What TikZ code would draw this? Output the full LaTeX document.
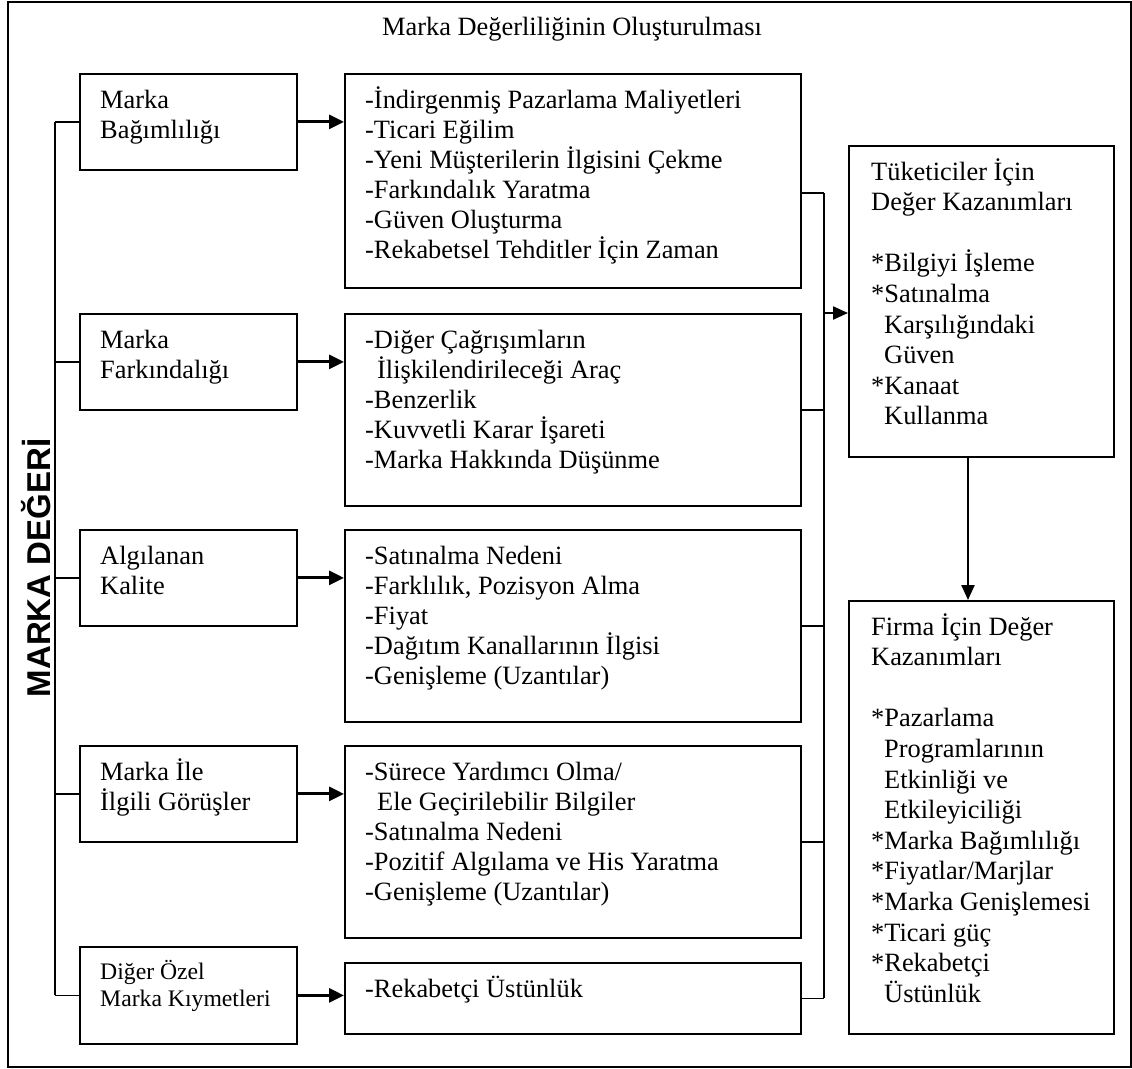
\documentclass[tikz,border=0pt]{standalone}
\usepackage{fontspec}
\setmainfont{Liberation Serif}
\newfontfamily\sansbold{Liberation Sans}
\usetikzlibrary{arrows.meta}
\tikzset{
  box/.style={draw, line width=1.8pt, rectangle, inner sep=0pt, anchor=north west},
  txt/.style={anchor=base west, inner sep=0pt, font=\fontsize{26.4}{30}\selectfont},
  rtxt/.style={anchor=base west, inner sep=0pt, font=\fontsize{26.4}{30.6}\selectfont},
  smalltxt/.style={anchor=base west, inner sep=0pt, font=\fontsize{23.7}{27}\selectfont},
  conn/.style={line width=1.5pt},
  arr/.style={line width=3pt, -{Triangle[length=15pt,width=14pt]}},
  arrthin/.style={line width=2.2pt, -{Triangle[length=15pt,width=13pt]}},
}
\newcommand{\ind}{\hspace*{12pt}}
\newcommand{\astind}{\hspace*{13pt}}
\newcommand{\mystar}{{}*}
\begin{document}
\begin{tikzpicture}[x=1pt,y=-1pt]
\useasboundingbox (0,0) rectangle (1132,1068);
% outer frame
\node[box, line width=1.8pt, minimum width=1123pt, minimum height=1065pt] (frame) at (7,1) {};
% title
\node[anchor=base, inner sep=0pt, font=\fontsize{26.4}{30}\selectfont] (title) at (572,35) {Marka Değerliliğinin Oluşturulması};
% vertical label
\node[anchor=base, rotate=90, inner sep=0pt, font=\sansbold\bfseries\fontsize{33}{38}\selectfont] (mdeg) at (50,568) {MARKA DEĞERİ};

% left boxes
\node[box, minimum width=217pt, minimum height=96pt] (b1) at (79,73) {};
\node[box, minimum width=217pt, minimum height=96pt] (b2) at (79,313) {};
\node[box, minimum width=217pt, minimum height=96pt] (b3) at (79,529) {};
\node[box, minimum width=217pt, minimum height=96pt] (b4) at (79,745) {};
\node[box, minimum width=217pt, minimum height=97pt] (b5) at (79,946) {};

\node[txt] (t1) at (100,108) {\parbox[t]{200pt}{\raggedright Marka\\Bağımlılığı}};
\node[txt] (t2) at (100,348) {\parbox[t]{200pt}{\raggedright Marka\\Farkındalığı}};
\node[txt] (t3) at (100,564) {\parbox[t]{200pt}{\raggedright Algılanan\\Kalite}};
\node[txt] (t4) at (100,780) {\parbox[t]{200pt}{\raggedright Marka İle\\İlgili Görüşler}};
\node[smalltxt] (t5) at (100,979) {\parbox[t]{200pt}{\raggedright Diğer Özel\\Marka Kıymetleri}};

% middle boxes
\node[box, minimum width=456pt, minimum height=214pt] (m1) at (344,73) {};
\node[box, minimum width=456pt, minimum height=192pt] (m2) at (344,313) {};
\node[box, minimum width=456pt, minimum height=192pt] (m3) at (344,529) {};
\node[box, minimum width=456pt, minimum height=192pt] (m4) at (344,745) {};
\node[box, minimum width=456pt, minimum height=71pt] (m5) at (344,962) {};

\node[txt] (n1) at (365,108) {\parbox[t]{430pt}{\raggedright
-İndirgenmiş Pazarlama Maliyetleri\\
-Ticari Eğilim\\
-Yeni Müşterilerin İlgisini Çekme\\
-Farkındalık Yaratma\\
-Güven Oluşturma\\
-Rekabetsel Tehditler İçin Zaman}};
\node[txt] (n2) at (365,348) {\parbox[t]{430pt}{\raggedright
-Diğer Çağrışımların\\
\ind İlişkilendirileceği Araç\\
-Benzerlik\\
-Kuvvetli Karar İşareti\\
-Marka Hakkında Düşünme}};
\node[txt] (n3) at (365,564) {\parbox[t]{430pt}{\raggedright
-Satınalma Nedeni\\
-Farklılık, Pozisyon Alma\\
-Fiyat\\
-Dağıtım Kanallarının İlgisi\\
-Genişleme (Uzantılar)}};
\node[txt] (n4) at (365,780) {\parbox[t]{430pt}{\raggedright
-Sürece Yardımcı Olma/\\
\ind Ele Geçirilebilir Bilgiler\\
-Satınalma Nedeni\\
-Pozitif Algılama ve His Yaratma\\
-Genişleme (Uzantılar)}};
\node[txt] (n5) at (365,997) {\parbox[t]{430pt}{\raggedright -Rekabetçi Üstünlük}};

% right boxes
\node[box, minimum width=265pt, minimum height=311pt] (r1) at (848,145) {};
\node[box, minimum width=265pt, minimum height=433pt] (r2) at (848,600) {};

\node[rtxt] (rt1) at (871,180) {\parbox[t]{240pt}{\raggedright
Tüketiciler İçin\\
Değer Kazanımları\\
\mbox{}\\
\mystar Bilgiyi İşleme\\
\mystar Satınalma\\
\astind Karşılığındaki\\
\astind Güven\\
\mystar Kanaat\\
\astind Kullanma}};
\node[rtxt] (rt2) at (871,635) {\parbox[t]{240pt}{\raggedright
Firma İçin Değer\\
Kazanımları\\
\mbox{}\\
\mystar Pazarlama\\
\astind Programlarının\\
\astind Etkinliği ve\\
\astind Etkileyiciliği\\
\mystar Marka Bağımlılığı\\
\mystar Fiyatlar/Marjlar\\
\mystar Marka Genişlemesi\\
\mystar Ticari güç\\
\mystar Rekabetçi\\
\astind Üstünlük}};

% spine on the left
\coordinate (sp) at (55,0);
\draw[conn] (sp |- b1.west) -- (sp |- b5.west);
\foreach \b in {b1,b2,b3,b4,b5}{
  \draw[conn] (sp |- \b.west) -- (\b.west);
}
% arrows left -> middle
\draw[arr] (b1.east) -- (m1.west |- b1.east);
\draw[arr] (b2.east) -- (m2.west |- b2.east);
\draw[arr] (b3.east) -- (m3.west |- b3.east);
\draw[arr] (b4.east) -- (m4.west |- b4.east);
\draw[arr] (b5.east) -- (m5.west |- b5.east);

% collector on the right
\coordinate (cx) at (824,0);
\coordinate (m1o) at (800,193);
\draw[conn] (cx |- m1o) -- (cx |- m5.east);
\draw[conn] (m1o) -- (cx |- m1o);
\foreach \m in {m2,m3,m4,m5}{
  \draw[conn] (\m.east) -- (cx |- \m.east);
}
\coordinate (r1in) at (848,313);
\draw[arrthin] (cx |- r1in) -- (r1in);

% down arrow
\coordinate (dn) at (968,0);
\draw[arrthin] (dn |- r1.south) -- (dn |- r2.north);
\end{tikzpicture}
\end{document}
